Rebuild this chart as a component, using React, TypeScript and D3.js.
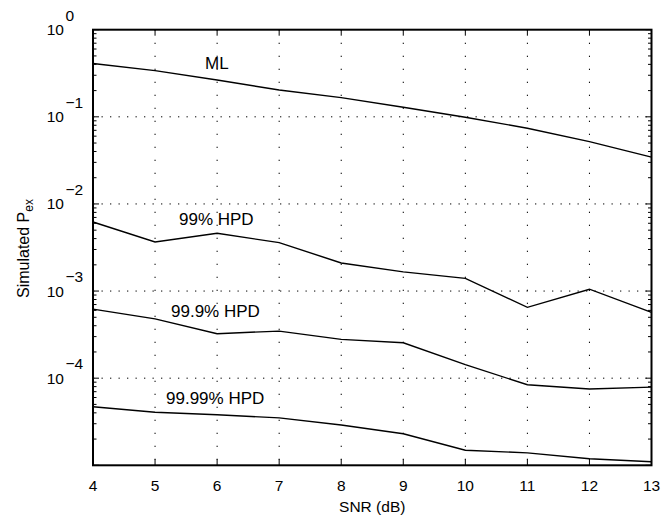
import React from "react";
import * as d3 from "d3";

const snr = [4, 5, 6, 7, 8, 9, 10, 11, 12, 13];
const pexML = [0.41, 0.339, 0.265, 0.203, 0.166, 0.129, 0.099, 0.074, 0.052, 0.0344];
const pex99 = [6.2e-3, 3.66e-3, 4.6e-3, 3.6e-3, 2.1e-3, 1.66e-3, 1.4e-3, 6.5e-4, 1.05e-3, 5.7e-4];
const pex999 = [6.2e-4, 4.8e-4, 3.24e-4, 3.47e-4, 2.79e-4, 2.55e-4, 1.43e-4, 8.4e-5, 7.5e-5, 7.9e-5];
const pex9999 = [4.7e-5, 4.07e-5, 3.8e-5, 3.5e-5, 2.9e-5, 2.3e-5, 1.49e-5, 1.39e-5, 1.19e-5, 1.1e-5];
const seriesNames = ["ML", "99% HPD", "99.9% HPD", "99.99% HPD"];
const xTicks = [4, 5, 6, 7, 8, 9, 10, 11, 12, 13];
const yExponents = [0, -1, -2, -3, -4];
const xLabel = "SNR (dB)";
const yLabelMain = "Simulated P";
const yLabelSub = "ex";

// label anchor positions (pixels) — layout, not data
const labelPos = [
  { x: 205, y: 69 },
  { x: 179, y: 224.5 },
  { x: 171, y: 316.5 },
  { x: 166, y: 404 },
];

const W = 662;
const H = 518;
const L = 93, R = 651.5, T = 29.7, B = 465.3;
const FONT = "'Liberation Sans', Arial, Helvetica, sans-serif";

export default function App() {
  const x = d3.scaleLinear().domain([4, 13]).range([L, R]);
  const y = d3.scaleLog().domain([1e-5, 1]).range([B, T]);
  const line = d3
    .line<[number, number]>()
    .x((d) => x(d[0]))
    .y((d) => y(d[1]));
  const series = [pexML, pex99, pex999, pex9999];

  const minor: number[] = [];
  for (let e = -5; e < 0; e++) {
    for (let m = 2; m <= 9; m++) minor.push(m * Math.pow(10, e));
  }
  const majors = [1, 0.1, 0.01, 1e-3, 1e-4, 1e-5];

  return (
    <svg
      width={W}
      height={H}
      style={{ position: "absolute", left: 0, top: 0, background: "#fff" }}
      fontFamily={FONT}
    >
      <rect x={0} y={0} width={W} height={H} fill="#fff" />
      {/* grid */}
      {xTicks.slice(1, -1).map((t) => (
        <line
          key={"gx" + t}
          x1={x(t)}
          x2={x(t)}
          y1={T}
          y2={B}
          stroke="#000"
          strokeWidth={1}
          strokeDasharray="1.3,11.7"
        />
      ))}
      {yExponents.slice(1).map((e) => (
        <line
          key={"gy" + e}
          x1={L}
          x2={R}
          y1={y(Math.pow(10, e))}
          y2={y(Math.pow(10, e))}
          stroke="#000"
          strokeWidth={1}
          strokeDasharray="1.3,7.2"
        />
      ))}
      {/* data lines */}
      {series.map((s, i) => (
        <path
          key={"s" + i}
          d={line(snr.map((v, j) => [v, s[j]] as [number, number])) || ""}
          fill="none"
          stroke="#000"
          strokeWidth={1.4}
        />
      ))}
      {/* series labels */}
      {seriesNames.map((n, i) => (
        <text key={"l" + i} x={labelPos[i].x} y={labelPos[i].y} fontSize={17} fill="#000">
          {n}
        </text>
      ))}
      {/* ticks */}
      {xTicks.map((t) => (
        <g key={"tx" + t}>
          <line x1={x(t)} x2={x(t)} y1={B} y2={B - 6} stroke="#000" strokeWidth={1} />
          <line x1={x(t)} x2={x(t)} y1={T} y2={T + 6} stroke="#000" strokeWidth={1} />
          <text x={x(t)} y={491} textAnchor="middle" fontSize={15.5} fill="#000">
            {t}
          </text>
        </g>
      ))}
      {majors.map((v, i) => (
        <g key={"ty" + i}>
          <line x1={L} x2={L + 6} y1={y(v)} y2={y(v)} stroke="#000" strokeWidth={1} />
          <line x1={R} x2={R - 6} y1={y(v)} y2={y(v)} stroke="#000" strokeWidth={1} />
        </g>
      ))}
      {minor.map((v, i) => (
        <g key={"my" + i}>
          <line x1={L} x2={L + 3.5} y1={y(v)} y2={y(v)} stroke="#000" strokeWidth={1} />
          <line x1={R} x2={R - 3.5} y1={y(v)} y2={y(v)} stroke="#000" strokeWidth={1} />
        </g>
      ))}
      {yExponents.map((e) => {
        const gy = y(Math.pow(10, e));
        return (
          <g key={"yl" + e}>
            <text x={64} y={gy + 5.5} textAnchor="end" fontSize={15.5} fill="#000">
              10
            </text>
            <text x={65.5} y={gy - 9} fontSize={15.5} fill="#000">
              {e === 0 ? "0" : "\u2212" + Math.abs(e)}
            </text>
          </g>
        );
      })}
      {/* axes box */}
      <rect x={L} y={T} width={R - L} height={B - T} fill="none" stroke="#000" strokeWidth={2} />
      {/* axis labels */}
      <text x={(L + R) / 2} y={512} textAnchor="middle" fontSize={15.5} fill="#000">
        {xLabel}
      </text>
      <text transform={`translate(29,298) rotate(-90)`} fontSize={16} fill="#000">
        {yLabelMain}
        <tspan dy={4} fontSize={12}>
          {yLabelSub}
        </tspan>
      </text>
    </svg>
  );
}
